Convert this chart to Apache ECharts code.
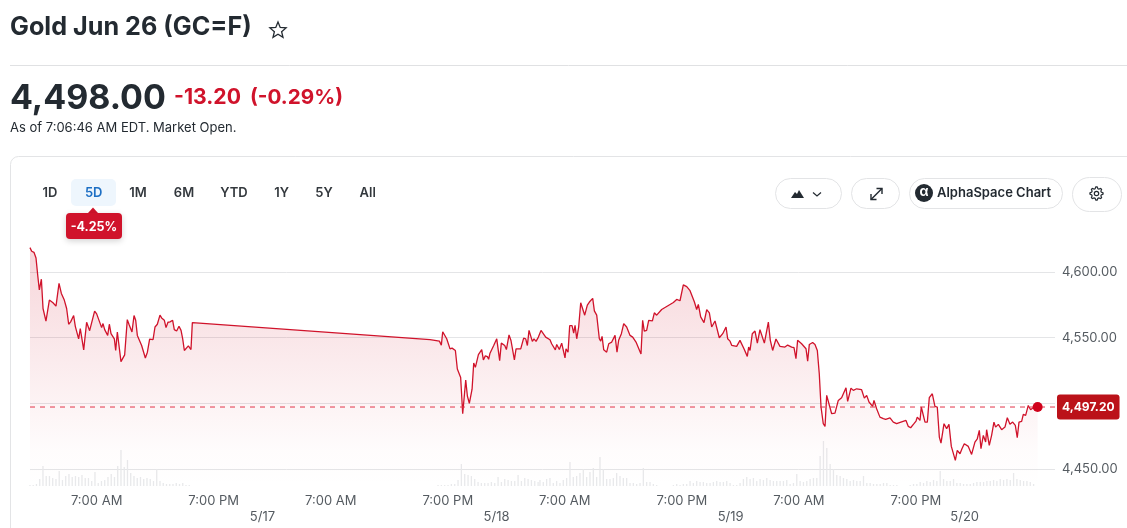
<!DOCTYPE html>
<html><head><meta charset="utf-8">
<style>html,body{margin:0;padding:0;background:#fff;overflow:hidden}#main{width:1127px;height:528px}</style>
<script src="https://cdn.jsdelivr.net/npm/echarts@6/dist/echarts.min.js"></script>
</head><body><div id="main"></div>
<script>
// hours since midnight of the first session
const hours=[0.16,0.34,0.57,0.78,0.95,1.12,1.33,1.50,1.80,2.15,2.35,2.52,2.69,2.83,3.14,3.38,3.68,3.92,4.13,4.33,4.50,4.64,4.81,4.98,5.15,5.32,5.67,5.97,6.14,6.28,6.45,6.79,7.00,7.20,7.51,7.65,7.82,7.96,8.13,8.30,8.47,8.67,8.81,8.95,9.12,9.29,9.49,9.63,9.87,10.01,10.14,10.31,10.49,10.62,10.83,11.00,11.17,11.34,11.61,11.78,11.99,12.20,12.43,12.57,12.78,12.98,13.22,13.49,13.66,13.94,14.11,14.31,14.52,14.79,14.96,15.20,15.44,15.65,15.82,15.99,16.16,16.40,16.67,16.81,
41.18,42.14,42.34,42.48,42.68,42.89,43.23,43.44,43.78,43.98,44.15,44.32,44.53,44.84,45.01,45.21,45.49,45.66,45.83,46.14,46.31,46.48,46.65,46.85,47.06,47.19,47.33,47.50,47.71,48.02,48.19,48.32,48.49,48.84,49.01,49.28,49.48,49.83,50.00,50.20,50.48,50.78,50.99,51.16,51.33,51.50,51.67,51.84,52.05,52.29,52.56,52.73,53.04,53.48,53.65,53.83,54.03,54.17,54.44,54.68,55.02,55.12,55.33,55.50,55.74,55.91,56.05,56.22,56.42,56.63,56.83,57.04,57.31,57.52,57.86,58.03,58.27,58.54,58.68,58.82,58.99,59.29,59.50,59.81,60.15,60.35,60.52,60.80,61.04,61.34,61.69,61.96,62.30,62.81,62.98,63.15,63.39,63.60,63.98,64.18,64.42,64.93,66.13,66.47,66.81,67.15,67.50,67.84,68.04,68.28,68.52,68.69,68.93,69.27,69.55,69.82,70.06,70.40,70.84,71.19,71.36,71.53,71.70,71.94,
72.11,72.62,72.96,73.37,73.71,73.85,73.99,74.22,74.40,74.50,74.74,75.01,75.46,75.87,76.07,76.31,76.65,77.06,77.57,77.85,78.26,78.50,78.70,78.87,79.28,79.73,79.90,80.07,80.21,80.41,80.65,80.89,81.09,81.27,81.50,81.68,81.85,82.05,82.36,82.70,83.04,83.38,83.83,84.00,84.34,84.58,84.92,85.43,85.71,85.95,86.19,86.36,86.56,86.70,86.97,87.31,87.66,87.90,88.34,88.68,89.02,89.98,90.22,90.46,90.80,91.01,91.14,91.42,91.55,91.69,91.93,92.17,92.37,92.68,92.95,93.19,93.40,93.57,93.88,94.15,94.39,94.63,94.83,95.04,95.24,95.52,95.72,95.96,96.37,96.71,97.05,97.29,97.50,97.67,97.91,98.15,98.25,98.52,98.76,99.00,99.17,99.45,99.79,100.13,100.37,100.64,100.92,101.19,101.39,101.57,101.84,102.01,102.25,102.52,102.76,103.21,103.48];
const prices=[4618.7,4615.9,4615.1,4610.8,4598.0,4586.4,4594.6,4572.3,4562.6,4578.7,4578.7,4576.7,4576.7,4574.1,4591.5,4583.8,4578.7,4572.3,4560.3,4562.1,4562.1,4566.9,4558.7,4558.2,4549.2,4556.9,4540.8,4561.8,4560.8,4555.4,4556.2,4570.3,4568.2,4568.0,4557.7,4560.8,4556.2,4557.2,4551.8,4560.3,4553.1,4552.1,4549.2,4540.3,4554.4,4553.6,4531.8,4531.8,4536.9,4537.7,4563.8,4560.3,4559.7,4554.4,4566.9,4563.3,4551.8,4550.3,4544.1,4542.8,4534.6,4539.0,4549.0,4549.5,4548.5,4558.2,4560.3,4567.2,4565.1,4563.3,4557.7,4561.8,4562.1,4563.3,4556.2,4555.1,4558.7,4555.6,4549.2,4540.3,4540.0,4543.8,4541.0,4561.5,
4548.5,4547.4,4544.4,4554.6,4555.1,4549.2,4541.5,4542.1,4540.3,4526.2,4525.6,4519.7,4492.1,4517.7,4505.6,4500.0,4510.8,4530.8,4527.4,4537.2,4537.2,4541.0,4533.1,4536.2,4535.6,4533.6,4538.2,4537.7,4544.1,4549.2,4549.2,4532.6,4545.9,4544.1,4541.0,4552.1,4547.9,4533.1,4541.5,4540.3,4541.5,4549.7,4549.2,4544.1,4555.6,4556.4,4547.2,4549.2,4547.2,4550.5,4555.6,4555.4,4550.5,4548.5,4545.4,4546.2,4540.8,4544.9,4541.0,4545.9,4534.6,4541.5,4539.0,4559.2,4559.2,4553.6,4559.5,4549.2,4558.2,4576.7,4575.6,4567.2,4574.9,4577.2,4580.0,4570.5,4567.2,4549.2,4547.4,4551.0,4540.8,4539.0,4545.4,4546.7,4551.8,4539.0,4548.0,4553.1,4560.8,4558.2,4551.8,4550.5,4546.7,4537.7,4563.3,4555.1,4555.6,4563.3,4562.8,4569.0,4567.2,4571.5,4576.9,4579.2,4578.2,4590.3,4589.0,4585.9,4587.2,4577.4,4571.5,4575.4,4565.9,4561.5,4571.5,4569.0,4558.2,4562.8,4550.0,4553.1,4551.8,4558.2,4549.2,4547.4,
4544.2,4543.4,4548.0,4541.6,4535.8,4542.9,4540.3,4553.0,4551.8,4555.1,4545.9,4556.1,4545.9,4561.9,4548.0,4540.3,4549.0,4543.4,4542.9,4544.4,4542.9,4542.4,4534.0,4548.0,4545.4,4541.6,4532.2,4544.9,4543.4,4546.4,4544.9,4540.3,4522.6,4497.2,4484.5,4482.4,4506.1,4506.1,4492.1,4492.6,4502.2,4504.3,4511.9,4501.5,4511.6,4509.9,4511.1,4510.4,4504.0,4506.1,4501.0,4502.2,4497.7,4502.2,4495.9,4489.5,4488.3,4487.8,4489.0,4485.7,4484.5,4487.0,4482.4,4481.4,4484.5,4486.5,4489.5,4487.0,4497.2,4496.7,4485.7,4485.7,4504.3,4507.3,4497.7,4497.2,4474.3,4469.7,4484.5,4480.7,4484.0,4467.2,4466.7,4456.5,4464.1,4461.6,4465.4,4469.2,4467.2,4461.1,4470.5,4473.0,4479.4,4465.4,4475.6,4470.5,4479.9,4468.0,4475.6,4485.7,4481.9,4484.0,4479.9,4481.9,4489.0,4484.0,4485.7,4483.2,4473.8,4485.7,4486.2,4491.6,4490.8,4498.4,4495.1,4497.7,4497.2];
// volume, hundreds of contracts, one bar per step, three runs
const volStartA=0.16, volStepA=0.3333;
const volA=[1,1,2,7,20,10,10,8,7,15,6,10,12,9,10,9,11,8,8,5,14,3,5,6,9,12,9,20,36,19,26,13,10,8,9,7,8,7,5,17,5,3,2,2,2,3,2,3,1,1];
const volStartB=42.0, volStepB=0.342;
const volB=[1,1,1,1,2,2,6,22,12,11,10,7,4,3,3,3,4,3,9,4,7,6,5,5,11,5,8,7,6,5,4];
const volStartC=52.45, volStepC=0.342;
const volC=[6,4,7,8,3,5,3,6,8,24,9,10,13,17,9,14,18,9,29,17,7,7,8,13,10,8,8,3,3,2,3,18,4,4,2,1,0,0,0,0,1,2,1,2,2,5,3,5,4,4,3,3,4,5,4,4,5,3,1,1,3,7,9,7,8,5,7,6,8,6,5,5,5,5,6,2,3,12,5,4,5,7,8,8,30,45,38,22,17,11,10,8,7,5,6,5,5,10,3,3,2,2,2,3,3,1,1,1,0,0,0,1,2,2,4,3,5,4,6,5,15,7,5,5,7,3,3,2,2,2,3,4,4,4,5,5,6,5,7,6,7,6,13,7,6,5,5,4,2];
const priceTicks=[4450,4500,4550,4600];
const priceLabelTicks=[4450,4550,4600];
const timeTicks=[7,19,31,43,55,67,79,91];
const timeLabels=['7:00 AM','7:00 PM','7:00 AM','7:00 PM','7:00 AM','7:00 PM','7:00 AM','7:00 PM'];
const dateTicks=[24,48,72,96];
const dateLabels=['5/17','5/18','5/19','5/20'];
const lastQuote=4497.20;
const rangeLabels=['1D','5D','1M','6M','YTD','1Y','5Y','All'];
const rangeCenters=[50,93.7,138,184,234,281.7,324,367.7];

const FF='Inter, "Noto Sans", sans-serif';
const RED='#d0132b', INK='#232a31', BORDER='#e3e4e6';
const XMIN=0.164, XMAX=105.26;
const fmt=v=>v.toLocaleString('en-US',{minimumFractionDigits:2,maximumFractionDigits:2});
function T(x,y,text,size,weight,fill,align){return{type:'text',silent:true,style:{x,y,text,fill,font:`${weight} ${size}px ${FF}`,textAlign:align||'left',textVerticalAlign:'middle'}};}
function R(x,y,w,h,r,fill,stroke){return{type:'rect',silent:true,shape:{x,y,width:w,height:h,r},style:{fill:fill||'#fff',stroke:stroke||null,lineWidth:1}};}
function star(cx,cy,R1,R2){const p=[];for(let i=0;i<10;i++){const a=-Math.PI/2+i*Math.PI/5,r=i%2?R2:R1;p.push([cx+r*Math.cos(a),cy+r*Math.sin(a)]);}return p;}
function gear(cx,cy){const p=[];for(let i=0;i<32;i++){const a=i*Math.PI/16,m=i%4;const r=(m===0||m===1)?6.6:5;p.push([cx+r*Math.cos(a-0.1),cy+r*Math.sin(a-0.1)]);}return p;}
const L=(pts,stroke,w)=>({type:'polyline',silent:true,shape:{points:pts},style:{stroke,lineWidth:w||1.4,fill:null}});
const graphics=[
 T(10,27,'Gold Jun 26 (GC=F)',25.2,700,INK),
 {type:'polygon',silent:true,shape:{points:star(278,30.5,8.5,3.8)},style:{fill:'#fff',stroke:INK,lineWidth:1.3}},
 {type:'line',silent:true,shape:{x1:10,y1:65.5,x2:1127,y2:65.5},style:{stroke:'#e0e1e3',lineWidth:1}},
 T(10,99,'4,498.00',34,700,INK),
 T(174,98,'-13.20',21.2,700,RED),
 T(250,98,'(-0.29%)',20.7,700,RED),
 T(10,128.5,'As of 7:06:46 AM EDT. Market Open.',13,400,INK),
 R(10.5,156.5,1300,500,8,'#fff',BORDER),
 R(71,179,45,27,5,'#eef6fd'),
 ...rangeLabels.map((s,i)=>T(rangeCenters[i],193,s,13,600,i===1?'#1d6fc4':'#33383d','center')),
 {type:'polygon',silent:true,shape:{points:[[93,207.5],[88,213],[98,213]]},style:{fill:RED}},
 {type:'rect',silent:true,shape:{x:66,y:213,width:56,height:26,r:4},style:{fill:RED,shadowBlur:6,shadowColor:'rgba(0,0,0,0.18)',shadowOffsetY:2}},
 T(94,227,'-4.25%',12.5,700,'#fff','center'),
 R(775.5,178.5,66,30,15,'#fff',BORDER),
 R(851.5,178.5,48,30,15,'#fff',BORDER),
 R(909.5,178.5,153,30,15,'#fff',BORDER),
 R(1072.5,177.5,49,34,17,'#fff',BORDER),
 {type:'polygon',silent:true,shape:{points:[[791,198],[795,192],[797,194],[799,190],[804,198]]},style:{fill:INK}},
 L([[813,192.5],[817,196],[821,192.5]],INK,1.2),
 L([[871,199.5],[882,188.5]],INK,1.4),L([[876.5,188.5],[882,188.5],[882,194]],INK,1.4),L([[871,194],[871,199.5],[876.5,199.5]],INK,1.4),
 {type:'circle',silent:true,shape:{cx:924,cy:193,r:9},style:{fill:INK}},
 T(924,192.5,'α',13,700,'#fff','center'),
 T(937,193,'AlphaSpace Chart',13,600,INK),
 {type:'polygon',silent:true,shape:{points:gear(1096.5,193.5)},style:{fill:'#fff',stroke:INK,lineWidth:1.2}},
 {type:'circle',silent:true,shape:{cx:1096.5,cy:193.5,r:2.2},style:{fill:'#fff',stroke:INK,lineWidth:1.2}}
];
const linePts=hours.map((h,i)=>[h,prices[i]]);
const volPts=[...volA.map((v,i)=>[volStartA+i*volStepA,v]),...volB.map((v,i)=>[volStartB+i*volStepB,v]),...volC.map((v,i)=>[volStartC+i*volStepC,v])];
const chart=echarts.init(document.getElementById('main'));
chart.setOption({
 animation:false,backgroundColor:'#fff',
 textStyle:{fontFamily:FF},
 grid:{left:30,right:72,top:240,bottom:42,containLabel:false},
 graphic:{elements:graphics.map(g=>Object.assign(g,{z:-1}))},
 xAxis:[
  {type:'value',position:'bottom',min:XMIN,max:XMAX,
   axisLine:{show:false},splitLine:{show:false},axisTick:{show:false},
   axisLabel:{customValues:timeTicks,margin:9,fontSize:13,color:'#555b61',fontFamily:FF,
     formatter:v=>timeLabels[timeTicks.indexOf(v)]||''}},
  {type:'value',position:'bottom',offset:17,min:XMIN,max:XMAX,
   axisLine:{show:false},splitLine:{show:false},axisTick:{show:false},
   axisLabel:{customValues:dateTicks,margin:8,fontSize:13,color:'#555b61',fontFamily:FF,
     formatter:v=>dateLabels[dateTicks.indexOf(v)]||''}}
 ],
 yAxis:[
  {type:'value',position:'right',min:4437,max:4624.5,
   axisLine:{show:false},
   axisTick:{show:false,customValues:priceTicks},
   splitLine:{show:true,lineStyle:{color:'#e4e5e7',width:1}},
   axisLabel:{customValues:priceLabelTicks,margin:7,fontSize:13,color:'#555b61',fontFamily:FF,formatter:fmt}},
  {type:'value',position:'right',min:0,max:246,show:false,splitLine:{show:false}}
 ],
 series:[
  {type:'bar',name:'Volume',xAxisIndex:0,yAxisIndex:1,data:volPts,barWidth:1.3,itemStyle:{color:'#e8e9eb'},z:1,silent:true},
  {type:'line',name:'Gold',xAxisIndex:0,yAxisIndex:0,data:linePts,showSymbol:false,symbol:'none',smooth:false,z:3,
   lineStyle:{color:RED,width:1.3},
   areaStyle:{origin:'start',color:{type:'linear',x:0,y:0,x2:0,y2:1,colorStops:[{offset:0,color:'rgba(208,19,43,0.25)'},{offset:0.85,color:'rgba(208,19,43,0.02)'},{offset:1,color:'rgba(208,19,43,0)'}]}}},
  {type:'line',name:'Quote',xAxisIndex:0,yAxisIndex:0,data:[[XMIN,lastQuote],[XMAX,lastQuote]],showSymbol:false,symbol:'none',z:5,silent:true,clip:false,
   lineStyle:{color:'#e2354a',type:[5,5],width:1},
   endLabel:{show:true,distance:2,formatter:()=>fmt(lastQuote),color:'#fff',fontWeight:700,fontSize:12,fontFamily:FF,backgroundColor:'#bb1219',padding:[7,5,6,5],borderRadius:3}},
  {type:'scatter',name:'Last',xAxisIndex:0,yAxisIndex:0,data:[linePts[linePts.length-1]],symbolSize:10,itemStyle:{color:'#d0021b',opacity:1},z:6,silent:true}
 ]
});
</script></body></html>
